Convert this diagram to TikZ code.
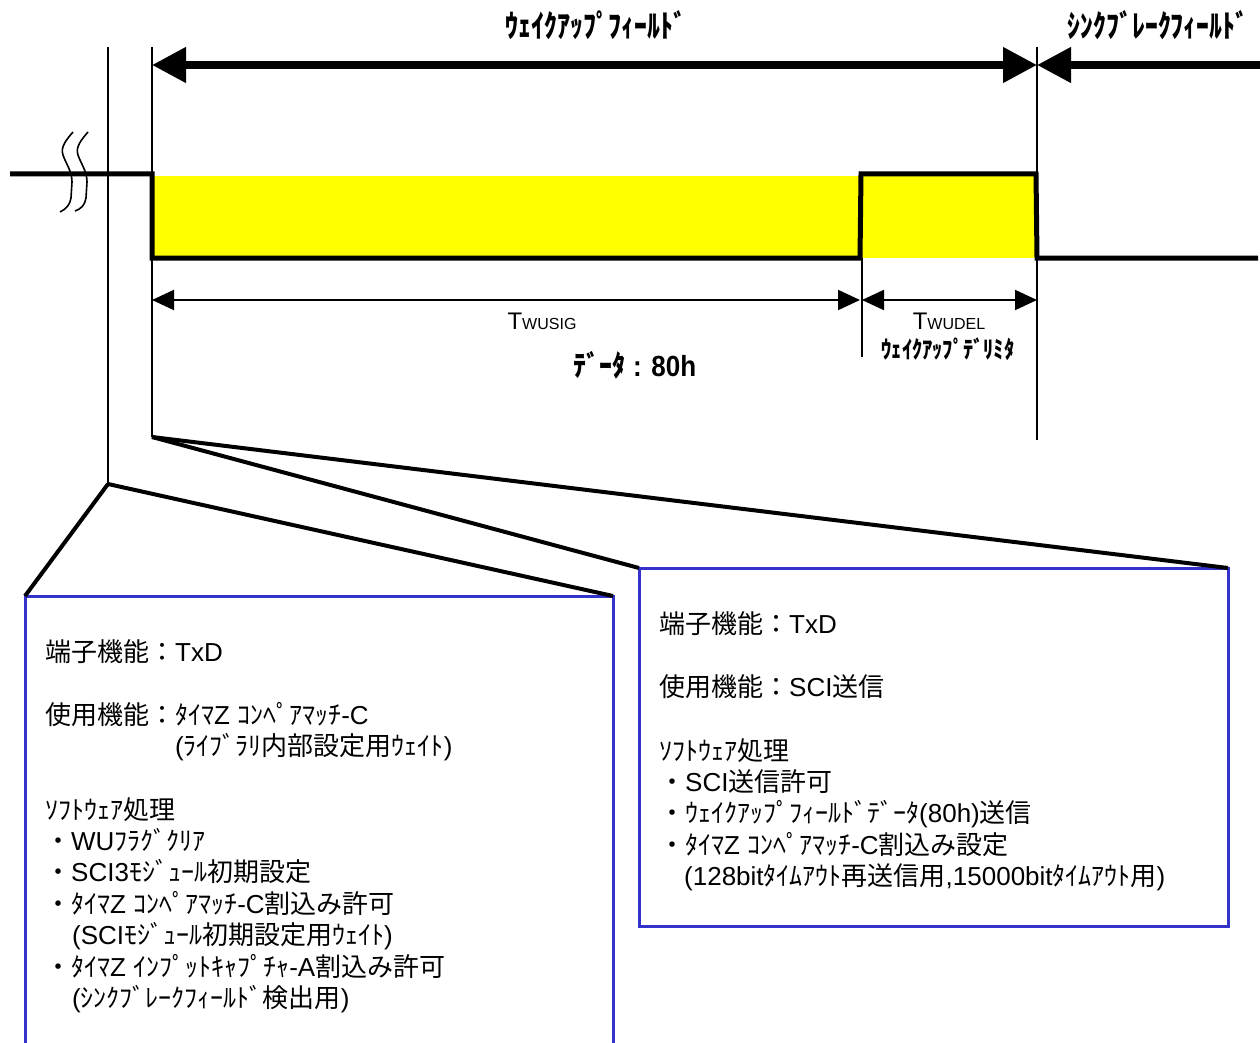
\documentclass[tikz,border=0pt]{standalone}
\usepackage{fontspec}
\usepackage{graphicx}
\setmainfont{Liberation Sans}
\newfontfamily\jp{Noto Sans CJK JP}
\usetikzlibrary{arrows.meta}
\definecolor{boxblue}{RGB}{51,51,204}
\definecolor{sigyellow}{RGB}{255,255,0}
\begin{document}
\begin{tikzpicture}[x=1pt,y=-1pt,
  guide/.style={line width=2.2pt},
  signal/.style={line width=5pt, line join=miter},
  bigarrow/.style={line width=7.5pt, >={Triangle[length=34pt,width=34pt]}},
  dimarrow/.style={line width=2pt, >={Triangle[length=22pt,width=20pt]}},
  zoomline/.style={line width=4pt},
  boxline/.style={draw=boxblue, line width=3pt},
  infobox/.style={boxline, rectangle, inner sep=0pt, outer sep=0pt},
  boxtxt/.style={anchor=base west, inner sep=0pt, font=\fontsize{26}{31}\selectfont},
  fieldtitle/.style={inner sep=0pt, font=\jp\bfseries\fontsize{25}{25}\selectfont},
  timelabel/.style={inner sep=0pt, anchor=base},
  breakmark/.style={line width=1.6pt}
]
\useasboundingbox (0,0) rectangle (1260,1043);

% yellow data area
\fill[sigyellow] (152,176) rectangle (1037,258);

% signal waveform
\draw[signal] (10,174) -- (152,174) -- (152,258) -- (860,258) -- (861,174) -- (1036,174) -- (1037,258) -- (1258,258);

% break mark
\draw[breakmark] (73,132) .. controls (67,139) and (60,147) .. (63,155)
  .. controls (66,164) and (72,171) .. (72,182) -- (71,198)
  .. controls (70,205) and (66,209) .. (60,212);
\draw[breakmark] (88,132) .. controls (82,139) and (75,147) .. (78,155)
  .. controls (81,164) and (87,171) .. (87,182) -- (86,198)
  .. controls (85,205) and (81,209) .. (75,211);

% guide lines
\draw[guide] (108,47) -- (108,486);
\draw[guide] (152,47) -- (152,437);
\draw[guide] (1037,47) -- (1037,440);
\draw[guide] (862,258) -- (862,357);

% field arrows
\draw[bigarrow,<->] (152,65) -- (1037,65);
\draw[bigarrow,<-] (1037,65) -- (1262,65);

% timing arrows
\draw[dimarrow,<->] (152,300) -- (860,300);
\draw[dimarrow,<->] (862,300) -- (1037,300);

% titles
\node[fieldtitle] (wutitle) at (596,25) {\scalebox{1.03}[1.25]{ｳｪｲｸｱｯﾌﾟﾌｨｰﾙﾄﾞ}};
\node[fieldtitle] (sbtitle) at (1158,25) {\scalebox{1.03}[1.25]{ｼﾝｸﾌﾞﾚｰｸﾌｨｰﾙﾄﾞ}};

\node[timelabel] (twusig) at (542,329) {{\fontsize{24}{24}\selectfont T}{\fontsize{16}{16}\selectfont WUSIG}};
\node[timelabel] (twudel) at (949,329) {{\fontsize{24}{24}\selectfont T}{\fontsize{16}{16}\selectfont WUDEL}};
\node[inner sep=0pt, font=\jp\bfseries\fontsize{20}{20}\selectfont] (delim) at (948,349) {\scalebox{1.02}[1.2]{ｳｪｲｸｱｯﾌﾟﾃﾞﾘﾐﾀ}};
\node[inner sep=0pt, anchor=base, font=\fontsize{26}{26}\selectfont\bfseries] (data) at (635,376) {\scalebox{1}[1.12]{{\jp ﾃﾞｰﾀ} : 80h}};

% boxes
\node[infobox, anchor=north west, minimum width=589pt, minimum height=358pt] (rbox) at (639,568) {};
\node[rectangle, draw=none, inner sep=0pt, outer sep=0pt, anchor=north west, minimum width=588pt, minimum height=450pt] (lbox) at (25,596) {};
\draw[boxline] (lbox.south west) -- (lbox.north west) -- (lbox.north east) -- (lbox.south east);

% zoom connectors
\coordinate (tapL) at (108,484);
\coordinate (tapR) at (152,437);
\draw[zoomline] (tapL) -- (lbox.north west);
\draw[zoomline] (tapL) -- (lbox.north east);
\draw[zoomline] (tapR) -- (rbox.north west);
\draw[zoomline] (tapR) -- (rbox.north east);

% left box text
\node[boxtxt] (l1) at (45,661) {{\jp 端子機能：}TxD};
\node[boxtxt] (l2) at (45,724) {{\jp 使用機能：ﾀｲﾏ}Z {\jp ｺﾝﾍﾟｱﾏｯﾁ}-C};
\node[boxtxt] (l3) at (175,755) {({\jp ﾗｲﾌﾞﾗﾘ内部設定用ｳｪｲﾄ})};
\node[boxtxt] (l4) at (45,819) {{\jp ｿﾌﾄｳｪｱ処理}};
\node[boxtxt] (l5) at (45,850) {{\jp ・}WU{\jp ﾌﾗｸﾞｸﾘｱ}};
\node[boxtxt] (l6) at (45,881) {{\jp ・}SCI3{\jp ﾓｼﾞｭｰﾙ初期設定}};
\node[boxtxt] (l7) at (45,913) {{\jp ・ﾀｲﾏ}Z {\jp ｺﾝﾍﾟｱﾏｯﾁ}-C{\jp 割込み許可}};
\node[boxtxt] (l8) at (72,944) {(SCI{\jp ﾓｼﾞｭｰﾙ初期設定用ｳｪｲﾄ})};
\node[boxtxt] (l9) at (45,976) {{\jp ・ﾀｲﾏ}Z {\jp ｲﾝﾌﾟｯﾄｷｬﾌﾟﾁｬ}-A{\jp 割込み許可}};
\node[boxtxt] (l10) at (72,1007) {({\jp ｼﾝｸﾌﾞﾚｰｸﾌｨｰﾙﾄﾞ検出用})};

% right box text
\node[boxtxt] (r1) at (659,633) {{\jp 端子機能：}TxD};
\node[boxtxt] (r2) at (659,696) {{\jp 使用機能：}SCI{\jp 送信}};
\node[boxtxt] (r3) at (659,760) {{\jp ｿﾌﾄｳｪｱ処理}};
\node[boxtxt] (r4) at (659,791) {{\jp ・}SCI{\jp 送信許可}};
\node[boxtxt] (r5) at (659,822) {{\jp ・ｳｪｲｸｱｯﾌﾟﾌｨｰﾙﾄﾞﾃﾞｰﾀ}(80h){\jp 送信}};
\node[boxtxt] (r6) at (659,854) {{\jp ・ﾀｲﾏ}Z {\jp ｺﾝﾍﾟｱﾏｯﾁ}-C{\jp 割込み設定}};
\node[boxtxt] (r7) at (684,885) {(128bit{\jp ﾀｲﾑｱｳﾄ再送信用},15000bit{\jp ﾀｲﾑｱｳﾄ用})};
\end{tikzpicture}
\end{document}
